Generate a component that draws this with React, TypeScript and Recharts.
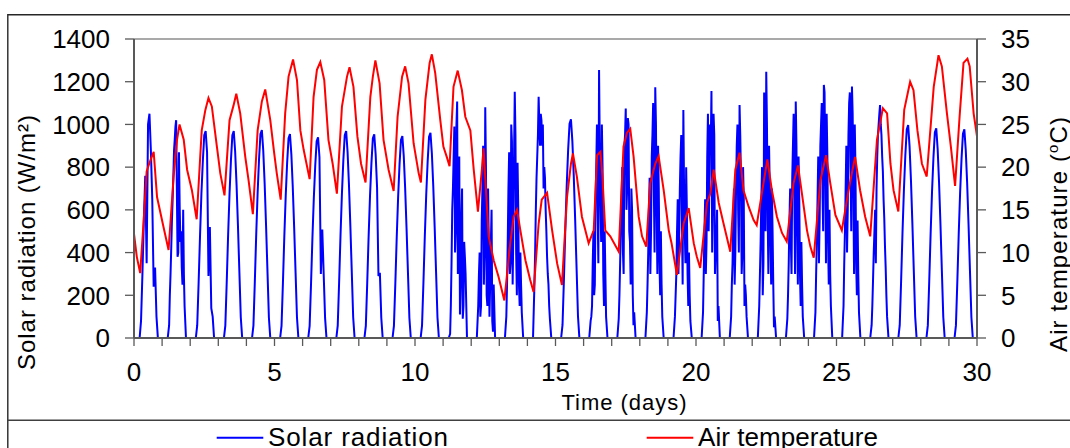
import React from 'react';
import { LineChart, Line, XAxis, YAxis, ReferenceLine } from 'recharts';

const FONT = '"Liberation Sans", Arial, sans-serif';
const W = 1070;
const H = 448;
const AXIS = '#595959';

// fraction of each day at which solar radiation was read
const dayFractions = [0.2, 0.25, 0.3, 0.35, 0.4, 0.45, 0.5, 0.55, 0.6, 0.65, 0.7, 0.75, 0.8, 0.85];

// solar radiation (W/m2), one row per day, read at dayFractions
const solarByDay: number[][] = [
  [0, 80, 300, 550, 760, 350, 1000, 1050, 880, 650, 240, 330, 100, 0],
  [0, 60, 300, 550, 760, 930, 1020, 380, 870, 450, 330, 600, 150, 0],
  [0, 60, 260, 480, 680, 830, 950, 969, 870, 290, 520, 140, 100, 0],
  [0, 58, 262, 485, 678, 833, 950, 969, 872, 717, 523, 310, 97, 0],
  [0, 58, 263, 487, 682, 838, 955, 974, 877, 721, 526, 312, 97, 0],
  [0, 57, 258, 478, 669, 821, 936, 955, 860, 707, 516, 306, 96, 0],
  [0, 56, 254, 470, 658, 808, 921, 940, 846, 300, 508, 301, 94, 0],
  [0, 58, 262, 485, 678, 833, 950, 969, 872, 717, 523, 310, 97, 0],
  [0, 57, 258, 477, 668, 820, 935, 954, 859, 706, 290, 305, 95, 0],
  [0, 57, 255, 473, 662, 814, 927, 946, 851, 700, 511, 303, 95, 0],
  [0, 58, 259, 480, 673, 826, 942, 961, 865, 711, 519, 308, 96, 0],
  [0, 20, 350, 700, 990, 500, 1107, 600, 110, 560, 90, 450, 300, 0],
  [0, 150, 400, 150, 700, 250, 1080, 200, 700, 100, 450, 80, 250, 0],
  [0, 100, 450, 870, 350, 920, 500, 1153, 400, 820, 250, 400, 120, 0],
  [0, 250, 600, 850, 1130, 900, 1020, 1000, 800, 600, 380, 250, 90, 0],
  [0, 61, 276, 512, 717, 881, 1004, 1024, 922, 758, 553, 328, 102, 0],
  [0, 80, 150, 500, 250, 800, 600, 1255, 650, 1000, 300, 500, 100, 0],
  [0, 90, 350, 650, 400, 900, 1075, 700, 1000, 450, 700, 200, 120, 0],
  [0, 120, 400, 750, 500, 950, 700, 1174, 600, 900, 350, 500, 100, 0],
  [0, 100, 300, 650, 450, 850, 550, 1068, 500, 800, 300, 400, 80, 0],
  [0, 120, 500, 300, 850, 500, 1000, 1157, 650, 950, 400, 600, 150, 0],
  [0, 100, 350, 700, 400, 900, 600, 1091, 750, 400, 650, 250, 100, 0],
  [0, 150, 450, 800, 350, 950, 1247, 600, 900, 450, 700, 250, 100, 0],
  [0, 90, 350, 700, 300, 900, 650, 1107, 500, 850, 300, 450, 100, 0],
  [0, 120, 450, 850, 550, 1000, 700, 1185, 800, 1050, 450, 600, 150, 0],
  [0, 150, 500, 900, 600, 1100, 800, 1177, 700, 1000, 350, 550, 120, 0],
  [0, 60, 270, 500, 350, 850, 1000, 1091, 950, 780, 560, 330, 100, 0],
  [0, 60, 269, 499, 698, 857, 977, 997, 897, 738, 538, 319, 100, 0],
  [0, 59, 265, 491, 687, 845, 962, 982, 884, 727, 530, 314, 98, 0],
  [0, 59, 264, 489, 684, 840, 957, 977, 879, 723, 528, 313, 98, 0],
];

// extra readings on the cloudy (fluctuating) days, between the regular ones
const cloudyFractions = [0.275, 0.325, 0.375, 0.425, 0.475, 0.525, 0.575, 0.625, 0.675, 0.725, 0.775];
const cloudyDays = [1, 11, 12, 13, 14, 16, 17, 18, 19, 20, 21, 22, 23, 24, 25, 26];
const cloudySolar: number[][] = [
  [200, 420, 650, 880, 990, 700, 400, 620, 500, 250, 300],
  [150, 600, 850, 400, 1000, 300, 850, 250, 700, 150, 380],
  [300, 100, 550, 900, 400, 800, 150, 450, 250, 600, 30],
  [250, 700, 300, 1000, 250, 850, 950, 200, 600, 150, 250],
  [400, 750, 950, 1000, 1050, 900, 700, 750, 500, 300, 150],
  [100, 350, 200, 650, 1000, 350, 900, 450, 800, 150, 300],
  [200, 500, 800, 300, 950, 600, 1030, 500, 250, 600, 60],
  [250, 600, 300, 850, 1100, 400, 1000, 300, 700, 200, 250],
  [200, 500, 300, 700, 950, 250, 700, 350, 600, 150, 200],
  [300, 650, 450, 1050, 700, 900, 400, 1050, 300, 450, 80],
  [250, 550, 250, 700, 1000, 400, 950, 300, 800, 150, 200],
  [300, 650, 200, 1150, 500, 1000, 300, 700, 250, 500, 50],
  [200, 550, 450, 750, 1050, 300, 900, 250, 650, 150, 250],
  [300, 650, 350, 900, 1100, 500, 1150, 350, 850, 250, 300],
  [350, 700, 400, 950, 1150, 500, 1050, 300, 800, 200, 300],
  [150, 400, 600, 700, 950, 1050, 1000, 850, 650, 430, 200],
];

// air temperature (°C): [time in days, value]
const airTemperature: [number, number][] = [
  [0, 12.2], [0.1, 9.5], [0.22, 7.6], [0.35, 14], [0.45, 19.5], [0.55, 20.5], [0.7, 21.8], [0.82, 16.5], [1.05, 13.0], [1.23, 10.3],
  [1.41, 18.9], [1.53, 23.2], [1.62, 25.0], [1.77, 23.2], [1.89, 19.7], [2.06, 17.3], [2.23, 13.9],
  [2.41, 24.3], [2.54, 26.7], [2.65, 28.1], [2.77, 27.1], [2.95, 22.4], [3.07, 19.3], [3.22, 16.7],
  [3.4, 25.5], [3.54, 27.2], [3.64, 28.6], [3.78, 26.3], [3.96, 21.2], [4.08, 18.4], [4.23, 14.5],
  [4.4, 24.3], [4.55, 27.7], [4.67, 29.1], [4.85, 25.5], [4.99, 21.6], [5.08, 19.3], [5.22, 16.2],
  [5.38, 26.3], [5.5, 30.6], [5.66, 32.6], [5.8, 30.2], [5.92, 24.3], [6.04, 22.0], [6.25, 18.6],
  [6.39, 28.2], [6.51, 31.4], [6.63, 32.3], [6.77, 30.2], [6.92, 23.2], [7.07, 20.4], [7.22, 16.9],
  [7.4, 27.1], [7.58, 30.6], [7.67, 31.7], [7.81, 29.4], [7.95, 23.6], [8.08, 20.4], [8.24, 18.2],
  [8.41, 28.2], [8.5, 30.6], [8.59, 32.5], [8.74, 29.8], [8.88, 23.2], [9.06, 19.7], [9.24, 17.2],
  [9.38, 25.9], [9.54, 30.6], [9.65, 31.8], [9.77, 29.8], [9.95, 22.8], [10.13, 19.3], [10.21, 18.2],
  [10.37, 27.9], [10.52, 32.2], [10.6, 33.2], [10.72, 31.0], [10.9, 25.5], [11.01, 22.4], [11.13, 21.2], [11.23, 20.1],
  [11.37, 29.4], [11.52, 31.3], [11.67, 29.0], [11.79, 25.9], [11.97, 24.3], [12.09, 19.7], [12.24, 14.8],
  [12.38, 19.7], [12.44, 22.2], [12.54, 16.5], [12.62, 11.9], [12.8, 9.1], [12.97, 7.2], [13.18, 4.4],
  [13.39, 11.1], [13.51, 14.2], [13.63, 15.0], [13.75, 12.6], [13.93, 9.1], [14.1, 6.8], [14.22, 5.4],
  [14.4, 13.4], [14.51, 16.2], [14.7, 17.0], [14.88, 12.6], [15.06, 8.7], [15.23, 6.2],
  [15.41, 16.5], [15.55, 20.4], [15.62, 21.6], [15.76, 18.9], [15.94, 14.2], [16.18, 11.1],
  [16.36, 12.6], [16.48, 21.4], [16.6, 21.8], [16.67, 18.9], [16.77, 12.6], [16.95, 11.9], [17.25, 10.1],
  [17.42, 22.4], [17.54, 24.0], [17.66, 24.5], [17.78, 21.2], [17.96, 14.2], [18.08, 11.9], [18.23, 10.7],
  [18.37, 18.1], [18.55, 20.4], [18.67, 21.3], [18.85, 17.3], [19.03, 12.6], [19.13, 11.1], [19.32, 7.4],
  [19.56, 13.4], [19.74, 15.2], [19.92, 11.1], [20.03, 9.5], [20.15, 8.2],
  [20.39, 15.8], [20.51, 16.9], [20.63, 19.7], [20.81, 15.8], [20.98, 13.4], [21.22, 10.1],
  [21.4, 19.7], [21.55, 21.7], [21.69, 17.3], [21.87, 15.4], [22.05, 13.8], [22.16, 13.2],
  [22.38, 17.7], [22.54, 20.9], [22.7, 17.3], [22.88, 14.2], [23.06, 12.3], [23.23, 11.3],
  [23.47, 18.1], [23.63, 20.2], [23.77, 16.9], [23.95, 12.6], [24.07, 10.7], [24.19, 9.4],
  [24.43, 18.5], [24.63, 21.4], [24.78, 18.1], [24.96, 14.4], [25.19, 12.6],
  [25.43, 17.3], [25.66, 21.2], [25.84, 17.3], [26.02, 14.2], [26.2, 11.9],
  [26.44, 23.2], [26.65, 26.9], [26.8, 26.3], [26.92, 20.4], [27.03, 17.3], [27.2, 14.8],
  [27.41, 26.7], [27.62, 30.0], [27.74, 29.0], [27.88, 24.3], [28.04, 20.4], [28.21, 18.9],
  [28.46, 29.4], [28.63, 33.1], [28.75, 31.8], [28.93, 26.3], [29.07, 22.4], [29.22, 17.8],
  [29.38, 25.9], [29.52, 32.2], [29.66, 32.7], [29.74, 31.8], [29.88, 26.3], [30, 23.6],
];

const timeTicks = [0, 1, 2, 3, 4, 5, 6, 7, 8, 9, 10, 11, 12, 13, 14, 15, 16, 17, 18, 19, 20, 21, 22, 23, 24, 25, 26, 27, 28, 29, 30];
const timeLabels = [0, 5, 10, 15, 20, 25, 30];
const solarTicks = [0, 200, 400, 600, 800, 1000, 1200, 1400];
const tempTicks = [0, 5, 10, 15, 20, 25, 30, 35];

const solarData = [
  { t: 0, v: 0 },
  ...solarByDay.flatMap((row, d) => row.map((v, i) => ({ t: d + dayFractions[i], v }))),
  ...cloudySolar.flatMap((row, k) => row.map((v, i) => ({ t: cloudyDays[k] + cloudyFractions[i], v }))),
  { t: 30, v: 0 },
].sort((a, b) => a.t - b.t);
const tempData = airTemperature.map(([t, v]) => ({ t, v }));

const tickStyle = { fontSize: 26, fill: '#000', fontFamily: FONT };

export default function App() {
  return (
    <div style={{ position: 'fixed', left: 0, top: 0, width: W, height: H, overflow: 'hidden', background: '#fff' }}>
      <LineChart width={W} height={H} margin={{ top: 39, right: 0, bottom: 0, left: 0 }}>
        <XAxis
          type="number"
          dataKey="t"
          domain={[0, 30]}
          ticks={timeTicks}
          interval={0}
          allowDataOverflow
          tickFormatter={(v: number) => (timeLabels.includes(v) ? String(v) : '')}
          height={110}
          tickSize={8}
          tickMargin={17}
          axisLine={{ stroke: AXIS, strokeWidth: 2 }}
          tickLine={{ stroke: AXIS, strokeWidth: 1.3 }}
          tick={tickStyle}
        />
        <YAxis
          yAxisId="left"
          type="number"
          domain={[0, 1400]}
          ticks={solarTicks}
          interval={0}
          width={134}
          tickSize={9}
          tickMargin={15}
          axisLine={{ stroke: AXIS, strokeWidth: 2 }}
          tickLine={{ stroke: AXIS, strokeWidth: 1.3 }}
          tick={tickStyle}
        />
        <YAxis
          yAxisId="right"
          orientation="right"
          type="number"
          domain={[0, 35]}
          ticks={tempTicks}
          interval={0}
          width={93}
          tickSize={9}
          tickMargin={15}
          axisLine={{ stroke: AXIS, strokeWidth: 2 }}
          tickLine={{ stroke: AXIS, strokeWidth: 1.3 }}
          tick={tickStyle}
        />
        <ReferenceLine yAxisId="left" y={1400} stroke="#8c8c8c" strokeWidth={1.5} />
        <Line
          yAxisId="left"
          data={solarData}
          dataKey="v"
          name="Solar radiation"
          type="linear"
          stroke="#0000ff"
          strokeWidth={2}
          dot={false}
          activeDot={false}
          isAnimationActive={false}
        />
        <Line
          yAxisId="right"
          data={tempData}
          dataKey="v"
          name="Air temperature"
          type="linear"
          stroke="#ff0000"
          strokeWidth={2}
          dot={false}
          activeDot={false}
          isAnimationActive={false}
        />
      </LineChart>
      <svg
        width={W}
        height={H}
        style={{ position: 'absolute', left: 0, top: 0, pointerEvents: 'none' }}
        fontFamily={FONT}
      >
        <line x1={8} y1={14.8} x2={W} y2={14.8} stroke="#262626" strokeWidth={1.4} />
        <line x1={7.8} y1={14} x2={7.8} y2={H} stroke="#262626" strokeWidth={1.4} />
        <line x1={8} y1={420.2} x2={W} y2={420.2} stroke="#404040" strokeWidth={1.4} />
        <text
          transform="translate(34.5,242.5) rotate(-90)"
          textAnchor="middle"
          fontSize={24}
          fill="#000"
          textLength={255}
          lengthAdjust="spacing"
        >
          Solar radiation (W/m²)
        </text>
        <text
          transform="translate(1067,234.5) rotate(-90)"
          textAnchor="middle"
          fontSize={24}
          fill="#000"
          textLength={235}
          lengthAdjust="spacing"
        >
          Air temperature (<tspan fontSize={15} dy={-9}>o</tspan>
          <tspan dy={9}>C)</tspan>
        </text>
        <text x={624} y={410} textAnchor="middle" fontSize={22} fill="#000" textLength={125} lengthAdjust="spacing">
          Time (days)
        </text>
        <line x1={216.7} y1={437.7} x2={263.3} y2={437.7} stroke="#0000ff" strokeWidth={2} />
        <text x={268} y={445.7} fontSize={26} fill="#000" textLength={180} lengthAdjust="spacing">
          Solar radiation
        </text>
        <line x1={646.7} y1={437.7} x2={693.3} y2={437.7} stroke="#ff0000" strokeWidth={2} />
        <text x={698} y={445.7} fontSize={26} fill="#000" textLength={180} lengthAdjust="spacing">
          Air temperature
        </text>
      </svg>
    </div>
  );
}
